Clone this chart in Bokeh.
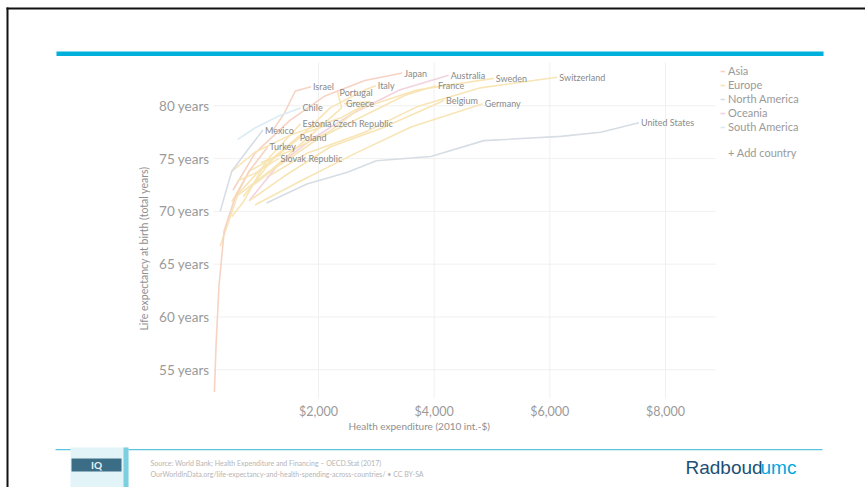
import math
from bokeh.plotting import figure
from bokeh.models import (Label, Legend, LegendItem, FixedTicker, LinearAxis,
                          ColumnDataSource, Range1d)
from bokeh.core.properties import value
from bokeh.embed import file_html
from bokeh.resources import INLINE

# ---------------- data ----------------
x_ticks = [2000, 4000, 6000, 8000]
x_tick_labels = ["$2,000", "$4,000", "$6,000", "$8,000"]
y_ticks = [55, 60, 65, 70, 75, 80]
y_tick_labels = ["55 years", "60 years", "65 years", "70 years", "75 years", "80 years"]

continents = ["Asia", "Europe", "North America", "Oceania", "South America"]

jpn_spend = [520, 900, 1500, 2100, 2800, 3450]
jpn_life = [72.0, 75.5, 78.6, 80.9, 82.4, 83.1]
che_spend = [1100, 1800, 2800, 3700, 4800, 6130]
che_life = [73.2, 75.5, 77.5, 79.9, 81.7, 82.7]
aus_spend = [800, 1300, 1900, 2600, 3400, 4250]
aus_life = [71.0, 74.4, 76.9, 79.3, 81.5, 82.9]
swe_spend = [1000, 1500, 2200, 2700, 3700, 5030]
swe_life = [74.6, 75.7, 77.6, 79.7, 81.5, 82.6]
fra_spend = [800, 1300, 2000, 2800, 3500, 4030]
fra_life = [72.2, 74.3, 76.9, 79.1, 81.0, 81.9]
ita_spend = [600, 1000, 1700, 2200, 2800, 2990]
ita_life = [71.6, 74.0, 77.1, 79.8, 81.5, 81.9]
isr_spend = [1200, 1400, 1600, 1870]
isr_life = [77.6, 79.2, 81.4, 81.8]
prt_spend = [300, 600, 1200, 1800, 2400, 2330]
prt_life = [66.7, 71.5, 74.0, 76.9, 79.8, 81.3]
chl_spend = [600, 900, 1300, 1690]
chl_life = [76.8, 77.9, 79.0, 79.8]
grc_spend = [500, 900, 1500, 2400, 2900, 2440]
grc_life = [73.8, 75.6, 77.2, 78.9, 80.4, 80.2]
bel_spend = [800, 1400, 2200, 3100, 4170]
bel_life = [71.0, 73.3, 76.1, 77.9, 80.5]
deu_spend = [900, 1700, 2600, 3600, 4840]
deu_life = [70.6, 72.9, 75.4, 78.0, 80.2]
est_spend = [500, 700, 1100, 1690]
est_life = [69.5, 70.9, 74.8, 78.3]
cze_spend = [700, 1200, 1700, 2210]
cze_life = [71.4, 74.9, 77.3, 78.3]
mex_spend = [300, 500, 800, 1040]
mex_life = [70.0, 73.8, 76.0, 77.7]
pol_spend = [500, 800, 1200, 1640]
pol_life = [70.9, 73.8, 75.0, 77.0]
tur_spend = [200, 230, 280, 370, 550, 800, 1120]
tur_life = [52.9, 57.5, 63.0, 68.2, 71.2, 73.8, 76.1]
svk_spend = [600, 900, 1310]
svk_life = [72.9, 73.6, 75.0]
usa_spend = [1100, 1800, 2500, 3000, 3940, 4860, 6190, 6880, 7540]
usa_life = [70.8, 72.6, 73.7, 74.8, 75.2, 76.7, 77.1, 77.5, 78.4]

series = [
    ("Japan", "Asia", jpn_spend, jpn_life),
    ("Switzerland", "Europe", che_spend, che_life),
    ("Australia", "Oceania", aus_spend, aus_life),
    ("Sweden", "Europe", swe_spend, swe_life),
    ("France", "Europe", fra_spend, fra_life),
    ("Italy", "Europe", ita_spend, ita_life),
    ("Israel", "Asia", isr_spend, isr_life),
    ("Portugal", "Europe", prt_spend, prt_life),
    ("Chile", "South America", chl_spend, chl_life),
    ("Greece", "Europe", grc_spend, grc_life),
    ("Belgium", "Europe", bel_spend, bel_life),
    ("Germany", "Europe", deu_spend, deu_life),
    ("Estonia", "Europe", est_spend, est_life),
    ("Czech Republic", "Europe", cze_spend, cze_life),
    ("Mexico", "North America", mex_spend, mex_life),
    ("Poland", "Europe", pol_spend, pol_life),
    ("Turkey", "Asia", tur_spend, tur_life),
    ("Slovak Republic", "Europe", svk_spend, svk_life),
    ("United States", "North America", usa_spend, usa_life),
]

x_title = "Health expenditure (2010 int.-$)"
y_title = "Life expectancy at birth (total years)"
source_line = "Source: World Bank; Health Expenditure and Financing \u2013 OECD.Stat (2017)"
url_line = "OurWorldInData.org/life-expectancy-and-health-spending-across-countries/ \u2022 CC BY-SA"

# ---------------- styles / geometry (page pixels) ----------------
FONT = "Lato"
GREY = "#9a9a9a"
cont_colors = {
    "Asia": "#f6d3c3",
    "Europe": "#f8e5b5",
    "North America": "#d7dde4",
    "Oceania": "#f2d3df",
    "South America": "#d9ebf4",
}

PW, PH = 865, 487                 # whole slide
FL, FT, FB = 213, 62, 398          # chart area left / top / bottom
GRID_R = 715                       # right end of horizontal grid lines
XPX_2000, XPX_8000 = 318, 665      # where $2,000 and $8,000 sit
Y0, Y1 = 52.28, 84.1               # life-expectancy span of the chart area

kx = (XPX_8000 - XPX_2000) / 6000.0
X0 = 2000 - (XPX_2000 - FL) / kx
XR = X0 + (GRID_R - FL) / kx
ky = (FB - FT) / (Y1 - Y0)

# slide in page pixels (y down); the data live on extra ranges mapped onto it
p = figure(width=PW, height=PH, output_backend="svg", toolbar_location=None,
           x_range=Range1d(0, PW), y_range=Range1d(PH, 0),
           x_axis_location=None, y_axis_location=None,
           min_border=0, min_border_left=0, min_border_right=0,
           min_border_top=0, min_border_bottom=0,
           background_fill_color="white", border_fill_color="white",
           outline_line_color=None)
p.grid.visible = False
p.extra_x_ranges = {"data": Range1d(X0 - FL / kx, X0 + (PW - FL) / kx)}
p.extra_y_ranges = {"data": Range1d(Y0 - (PH - FB) / ky, Y1 + FT / ky)}
D = dict(x_range_name="data", y_range_name="data")

# grid lines at the tick values
p.segment(x0=x_ticks, y0=[Y0] * len(x_ticks), x1=x_ticks, y1=[Y1] * len(x_ticks),
          line_color="#f0f0f0", line_width=1, **D)
p.segment(x0=[X0] * len(y_ticks), y0=y_ticks, x1=[XR] * len(y_ticks), y1=y_ticks,
          line_color="#f0f0f0", line_width=1, **D)

# axes, fixed at the chart edges
xa = LinearAxis(x_range_name="data", fixed_location=FB,
                ticker=FixedTicker(ticks=x_ticks),
                major_label_overrides=dict(zip(x_ticks, x_tick_labels)))
ya = LinearAxis(y_range_name="data", fixed_location=FL,
                ticker=FixedTicker(ticks=y_ticks),
                major_label_overrides=dict(zip(y_ticks, y_tick_labels)))
for ax, size, standoff in ((xa, "12.5px", 5), (ya, "13.5px", 4)):
    ax.axis_line_color = None
    ax.major_tick_line_color = None
    ax.minor_tick_line_color = None
    ax.major_tick_out = 0
    ax.major_tick_in = 0
    ax.minor_tick_out = 0
    ax.major_label_standoff = standoff
    ax.major_label_text_font = FONT
    ax.major_label_text_font_size = size
    ax.major_label_text_color = GREY
p.add_layout(xa, "below")
p.add_layout(ya, "left")

# country lines + end labels
first_renderer = {}
for name, cont, xs, ys in series:
    r = p.line(xs, ys, line_color=cont_colors[cont], line_width=1.6, **D)
    first_renderer.setdefault(cont, r)

lab_src = ColumnDataSource(dict(
    x=[s[2][-1] for s in series],
    y=[s[3][-1] for s in series],
    name=[s[0] for s in series],
))
p.text(x="x", y="y", text="name", source=lab_src, x_offset=2,
       text_font=value(FONT), text_font_size="9px", text_color="#8a8a8a",
       text_baseline="middle", text_align="left", **D)

# legend: continents, then the "add country" control
blank = p.line([X0], [Y0], line_alpha=0, **D)
items = [LegendItem(label=c, renderers=[first_renderer[c]]) for c in continents]
items.append(LegendItem(label=" ", renderers=[blank]))
items.append(LegendItem(label="+ Add country", renderers=[blank]))
legend = Legend(items=items, location=(720, PH - 61 - 98), orientation="vertical",
                label_text_font=FONT, label_text_font_size="11px",
                label_text_color=GREY, glyph_width=5, glyph_height=6,
                label_height=11, label_standoff=3, spacing=1, padding=2,
                margin=0, border_line_color=None, background_fill_alpha=0)
p.add_layout(legend)


def label(x, y, text, size, color, font=FONT, align="left", angle=0.0, style="normal"):
    p.add_layout(Label(x=x, y=y, text=text, text_font=font, text_font_size=size,
                       text_color=color, text_align=align, text_baseline="middle",
                       angle=angle, text_font_style=style))


# axis titles
label(348, 425, x_title, "10px", "#8f8f8f")
label(143, 248, y_title, "10.5px", "#8f8f8f", align="center", angle=math.pi / 2)

# ---------------- slide decorations ----------------
p.quad(left=6, right=PW, top=7, bottom=9, fill_color="#111111", line_color=None)
p.quad(left=6, right=8, top=7, bottom=PH, fill_color="#111111", line_color=None)
p.quad(left=56, right=823, top=51, bottom=55.5, fill_color="#00b0dc", line_color=None)
p.quad(left=55, right=822, top=448.6, bottom=449.8, fill_color="#5bc4e0", line_color=None)
p.quad(left=70, right=128, top=447, bottom=PH, fill_color="#e2f4f8", line_color=None)
p.quad(left=123, right=128, top=447, bottom=PH, fill_color="#7ccfe0", line_color=None)
p.quad(left=71, right=121, top=458, bottom=471, fill_color="#3b6d86", line_color=None)

label(96, 464.5, "IQ", "10px", "#e8f3f7", align="center", style="bold")
label(150, 462, source_line, "7px", "#b5b5b5")
label(150, 473, url_line, "7px", "#b5b5b5")
label(685, 467, "Radboud", "19px", "#1d4f74", font="Liberation Sans")
label(760, 467, "umc", "19px", "#00a6de", font="Liberation Sans")

open("out.html", "w").write(file_html(p, INLINE))
